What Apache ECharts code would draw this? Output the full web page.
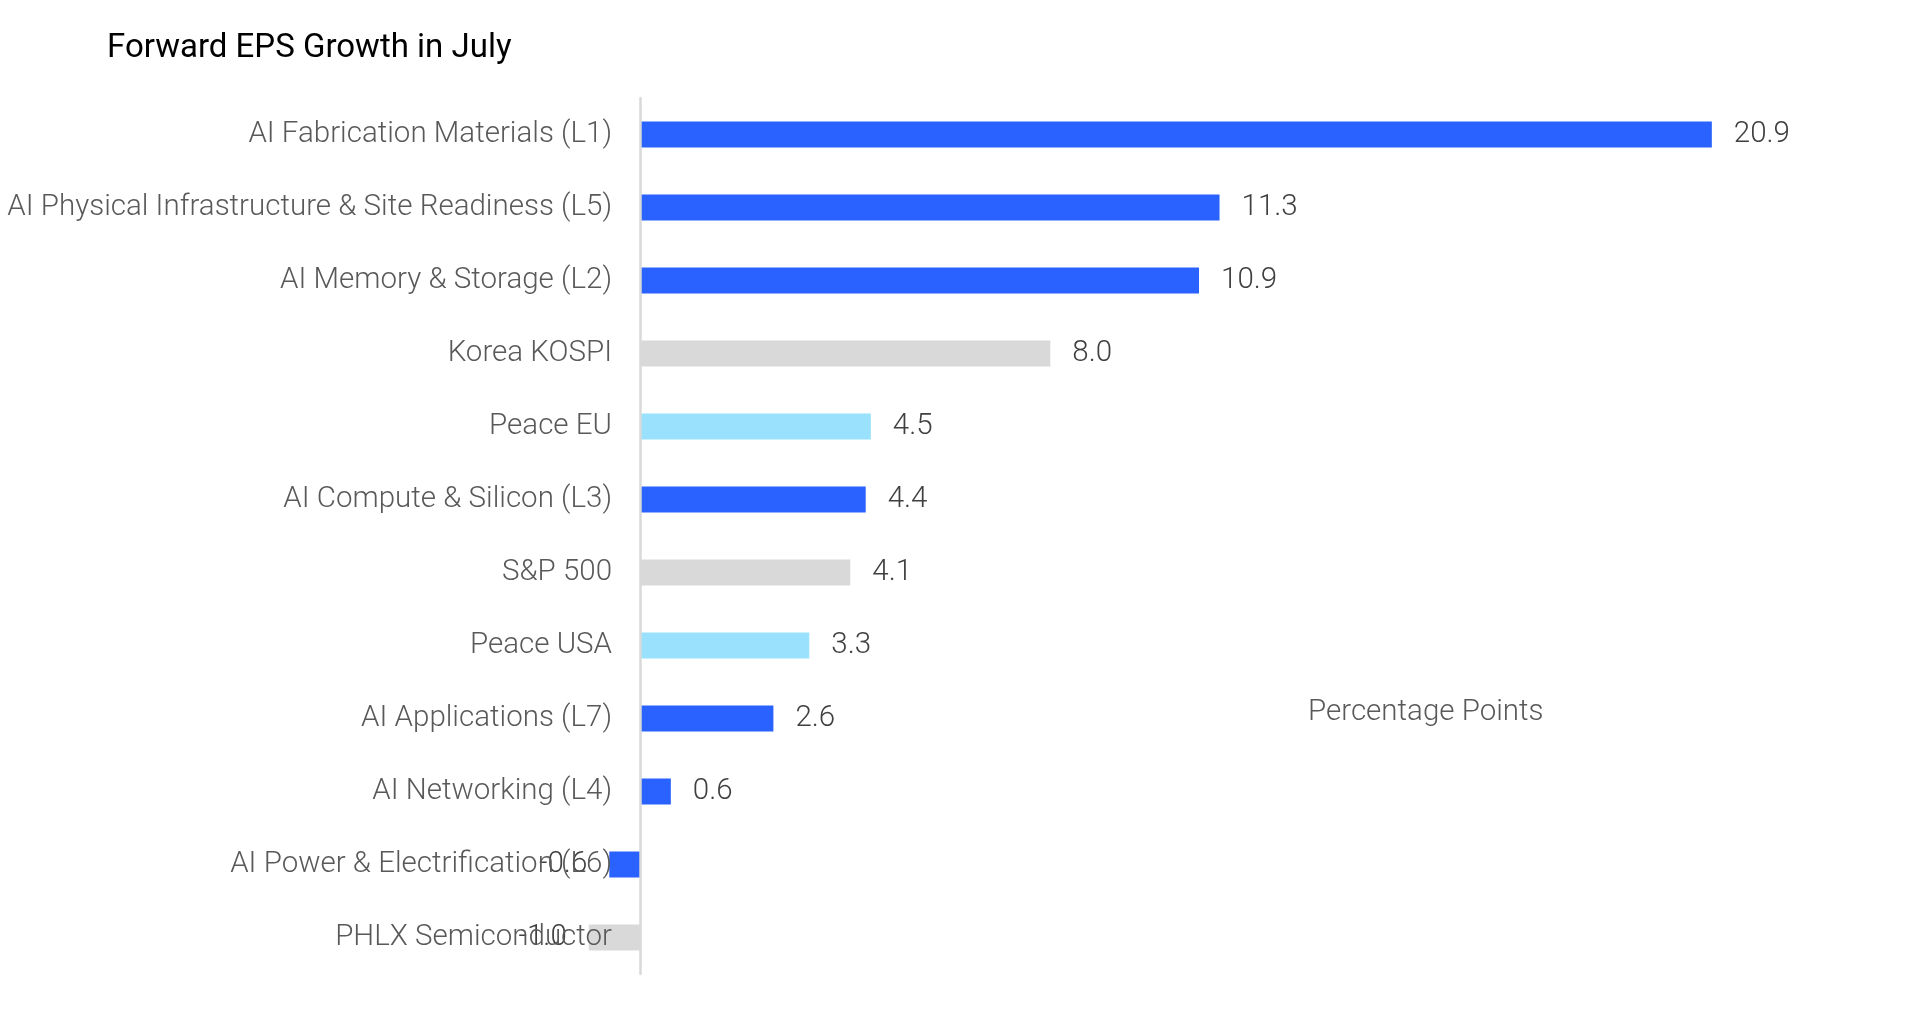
<!DOCTYPE html>
<html>
	<head>
		<meta charset="utf-8">
		<title>Forward EPS Growth in July</title>
		<script src="https://cdn.jsdelivr.net/npm/echarts@6/dist/echarts.min.js"></script>
		<style>
			html, body { margin: 0; padding: 0; background: #fff; }
		</style>
	</head>
	<body>
		<div id="main" style="width: 1920px;height: 1016px;"></div>
		<script type="text/javascript">
			// categories, top to bottom
			var categories = [
				'AI Fabrication Materials (L1)',
				'AI Physical Infrastructure & Site Readiness (L5)',
				'AI Memory & Storage (L2)',
				'Korea KOSPI',
				'Peace EU',
				'AI Compute & Silicon (L3)',
				'S&P 500',
				'Peace USA',
				'AI Applications (L7)',
				'AI Networking (L4)',
				'AI Power & Electrification (L6)',
				'PHLX Semiconductor'
			];
			var values = [20.9, 11.3, 10.9, 8.0, 4.5, 4.4, 4.1, 3.3, 2.6, 0.6, -0.6, -1.0];
			// group of each bar: ai layer, peace basket or benchmark index
			var groups = ['ai', 'ai', 'ai', 'index', 'peace', 'ai', 'index', 'peace', 'ai', 'ai', 'ai', 'index'];
			var groupColors = { ai: '#2962ff', peace: '#99e1fd', index: '#d9d9d9' };

			var chartDom = document.getElementById('main');
			var myChart = echarts.init(chartDom);

			var barData = values.map(function (v, i) {
				return {
					value: v,
					itemStyle: { color: groupColors[groups[i]] },
					label: { position: v < 0 ? 'left' : 'right' }
				};
			});

			var option = {
				backgroundColor: '#fff',
				animation: false,
				textStyle: { fontFamily: 'Roboto' },
				title: [{
					text: 'Forward EPS Growth in July',
					left: 102,
					top: 27,
					textStyle: { fontFamily: 'Roboto', fontSize: 33, fontWeight: 400, color: '#000' }
				}, {
					text: 'Percentage Points',
					left: 1303,
					top: 693,
					textStyle: { fontFamily: 'Roboto', fontSize: 29.5, fontWeight: 300, color: '#595959' }
				}],
				grid: {
					left: 537.5,
					right: 49.2,
					top: 98,
					bottom: 42,
					outerBoundsMode: 'none',
					containLabel: false
				},
				xAxis: {
					type: 'value',
					min: -2,
					max: 24,
					axisLine: { show: false },
					axisTick: { show: false },
					axisLabel: { show: false },
					splitLine: { show: false }
				},
				yAxis: {
					type: 'category',
					inverse: true,
					data: categories,
					z: 5,
					axisLine: { show: true, onZero: true, lineStyle: { color: '#d9d9d9', width: 2.5 } },
					axisTick: { show: false },
					axisLabel: {
						// labels sit next to the zero line, not the grid edge
						margin: -74.5,
						fontFamily: 'Roboto',
						fontSize: 29.5,
						fontWeight: 300,
						color: '#595959'
					}
				},
				series: [{
					type: 'bar',
					data: barData,
					barWidth: 26,
					label: {
						show: true,
						distance: 22,
						fontFamily: 'Roboto',
						fontSize: 29.5,
						fontWeight: 300,
						color: '#404040',
						formatter: function (p) { return p.value.toFixed(1); }
					}
				}]
			};

			myChart.setOption(option);
		</script>
	</body>
</html>
